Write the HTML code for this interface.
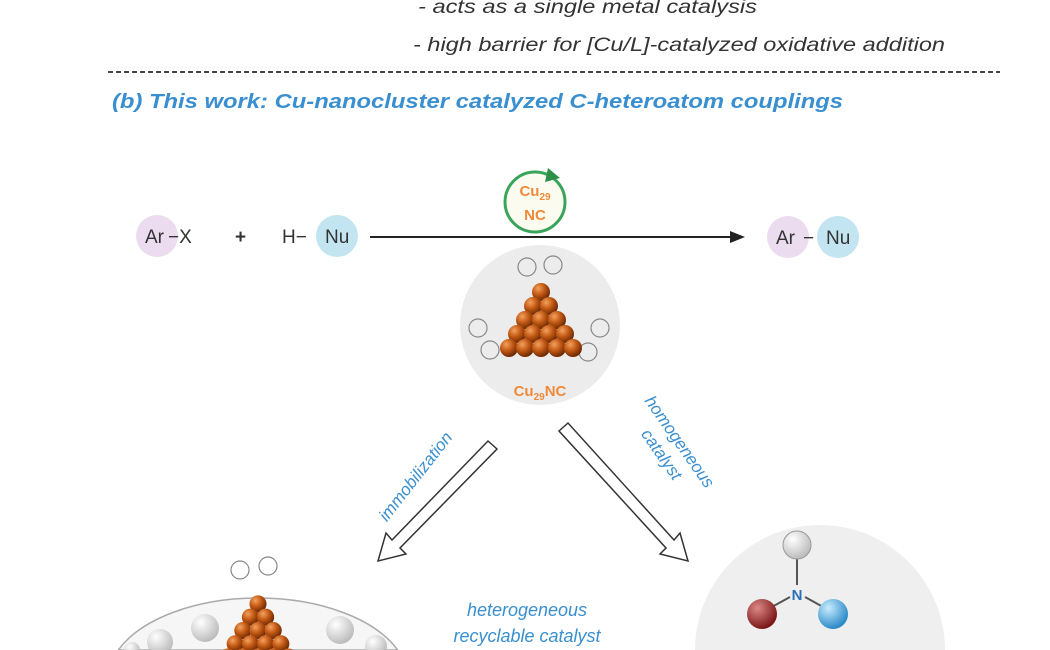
<!DOCTYPE html>
<html><head><meta charset="utf-8"><style>html,body{margin:0;padding:0;background:#fff;width:1050px;height:650px;overflow:hidden}svg{display:block;overflow:hidden}</style></head>
<body>
<svg width="1050" height="650" viewBox="0 0 1050 650" xmlns="http://www.w3.org/2000/svg" font-family="Liberation Sans, sans-serif">
<defs>
<clipPath id="frame"><rect x="0" y="0" width="1050" height="650"/></clipPath>
<radialGradient id="cu" cx="0.35" cy="0.3" r="0.7"><stop offset="0" stop-color="#f3a260"/><stop offset="0.5" stop-color="#c45a14"/><stop offset="1" stop-color="#6e2a05"/></radialGradient>
<radialGradient id="wb" cx="0.35" cy="0.3" r="0.7"><stop offset="0" stop-color="#ffffff"/><stop offset="1" stop-color="#bdbdbd"/></radialGradient>
<radialGradient id="rb" cx="0.35" cy="0.3" r="0.7"><stop offset="0" stop-color="#d88"/><stop offset="1" stop-color="#7a1616"/></radialGradient>
<radialGradient id="bb" cx="0.35" cy="0.3" r="0.7"><stop offset="0" stop-color="#c8ecff"/><stop offset="1" stop-color="#2b8ac8"/></radialGradient>
<g id="cl">
<circle cx="0" cy="-38" r="9" fill="url(#cu)"/>
<circle cx="-8" cy="-24" r="9" fill="url(#cu)"/><circle cx="8" cy="-24" r="9" fill="url(#cu)"/>
<circle cx="-16" cy="-10" r="9" fill="url(#cu)"/><circle cx="0" cy="-10" r="9" fill="url(#cu)"/><circle cx="16" cy="-10" r="9" fill="url(#cu)"/>
<circle cx="-24" cy="4" r="9" fill="url(#cu)"/><circle cx="-8" cy="4" r="9" fill="url(#cu)"/><circle cx="8" cy="4" r="9" fill="url(#cu)"/><circle cx="24" cy="4" r="9" fill="url(#cu)"/>
<circle cx="-32" cy="18" r="9" fill="url(#cu)"/><circle cx="-16" cy="18" r="9" fill="url(#cu)"/><circle cx="0" cy="18" r="9" fill="url(#cu)"/><circle cx="16" cy="18" r="9" fill="url(#cu)"/><circle cx="32" cy="18" r="9" fill="url(#cu)"/>
</g>
</defs>
<g clip-path="url(#frame)">
<g fill="#333" font-style="italic" font-size="19">
<text x="418" y="13" textLength="339" lengthAdjust="spacingAndGlyphs">- acts as a single metal catalysis</text>
<text x="413" y="51" textLength="532" lengthAdjust="spacingAndGlyphs">- high barrier for [Cu/L]-catalyzed oxidative addition</text>
</g>
<line x1="108" y1="72" x2="1000" y2="72" stroke="#444" stroke-width="2" stroke-dasharray="5,3"/>
<text x="112" y="108" fill="#3a8fd0" font-weight="bold" font-style="italic" font-size="20" textLength="731" lengthAdjust="spacingAndGlyphs">(b) This work:  Cu-nanocluster catalyzed C-heteroatom couplings</text>

<circle cx="157" cy="236" r="21" fill="#ecdcef"/>
<circle cx="337" cy="236" r="21" fill="#c3e5f2"/>
<circle cx="788" cy="237" r="21" fill="#ecdcef"/>
<circle cx="838" cy="237" r="21" fill="#c3e5f2"/>
<g font-size="19" fill="#333">
<text x="145" y="243">Ar</text><text x="168" y="243">−X</text><text x="235" y="243" font-weight="bold">+</text>
<text x="282" y="243">H−</text><text x="325" y="243">Nu</text>
<text x="776" y="244">Ar</text><text x="803" y="244">−</text><text x="826" y="244">Nu</text>
</g>
<line x1="370" y1="237" x2="732" y2="237" stroke="#222" stroke-width="2"/>
<polygon points="745,237 730,231 730,243" fill="#222"/>
<circle cx="535" cy="202" r="30" fill="#fbfbef" stroke="#3aa55a" stroke-width="3"/>
<polygon points="548,168 560,178 545,182" fill="#2d8f48"/>
<text x="535" y="196" text-anchor="middle" fill="#f08a3a" font-weight="bold" font-size="15">Cu<tspan font-size="10" dy="4">29</tspan></text>
<text x="535" y="220" text-anchor="middle" fill="#f08a3a" font-weight="bold" font-size="15">NC</text>

<circle cx="540" cy="325" r="80" fill="#ececec"/>
<g stroke="#888" fill="none" stroke-width="1.2">
<circle cx="527" cy="267" r="9"/><circle cx="553" cy="265" r="9"/>
<circle cx="478" cy="328" r="9"/><circle cx="490" cy="350" r="9"/><circle cx="600" cy="328" r="9"/><circle cx="588" cy="352" r="9"/>
</g>
<use href="#cl" transform="translate(541,330)"/>
<text x="540" y="396" text-anchor="middle" fill="#f08a3a" font-weight="bold" font-size="15">Cu<tspan font-size="10" dy="4">29</tspan><tspan dy="-4">NC</tspan></text>

<g fill="#fff" stroke="#333" stroke-width="1.5">
<polygon points="488,441 497,449 400,548 406,554 378,561 386,533 392,540"/>
<polygon points="568,423 559,431 666,548 660,554 688,561 680,533 674,540"/>
</g>
<text transform="translate(420,480) rotate(-52)" text-anchor="middle" fill="#3a8fd0" font-style="italic" font-size="17">immobilization</text>
<g transform="translate(675,445) rotate(55)" fill="#3a8fd0" font-style="italic" font-size="17" text-anchor="middle">
<text x="0" y="0">homogeneous</text><text x="0" y="22">catalyst</text></g>
<text x="527" y="616" text-anchor="middle" fill="#3a8fd0" font-style="italic" font-size="18">heterogeneous</text>
<text x="527" y="642" text-anchor="middle" fill="#3a8fd0" font-style="italic" font-size="18">recyclable catalyst</text>

<path d="M118.4,650 A150,82 0 0 1 397.6,650 Z" fill="#f6f6f6" stroke="#aaa" stroke-width="1.5"/>
<circle cx="160" cy="642" r="13" fill="url(#wb)"/><circle cx="205" cy="628" r="14" fill="url(#wb)"/><circle cx="340" cy="630" r="14" fill="url(#wb)"/><circle cx="376" cy="646" r="11" fill="url(#wb)"/><circle cx="132" cy="650" r="8" fill="url(#wb)"/>
<g stroke="#888" fill="none" stroke-width="1.2"><circle cx="240" cy="570" r="9"/><circle cx="268" cy="566" r="9"/></g>
<use href="#cl" transform="translate(258,640) scale(0.95)"/>

<path d="M695,650 A125,125 0 0 1 945,650 Z" fill="#efefef"/>
<line x1="797" y1="555" x2="797" y2="585" stroke="#555" stroke-width="2"/>
<line x1="790" y1="597" x2="770" y2="608" stroke="#555" stroke-width="2"/>
<line x1="805" y1="597" x2="825" y2="608" stroke="#555" stroke-width="2"/>
<circle cx="797" cy="545" r="14" fill="url(#wb)" stroke="#999"/>
<text x="797" y="600" text-anchor="middle" fill="#2a6fb8" font-weight="bold" font-size="15">N</text>
<circle cx="762" cy="614" r="15" fill="url(#rb)"/>
<circle cx="833" cy="614" r="15" fill="url(#bb)"/>
</g>
</svg>
</body></html>
